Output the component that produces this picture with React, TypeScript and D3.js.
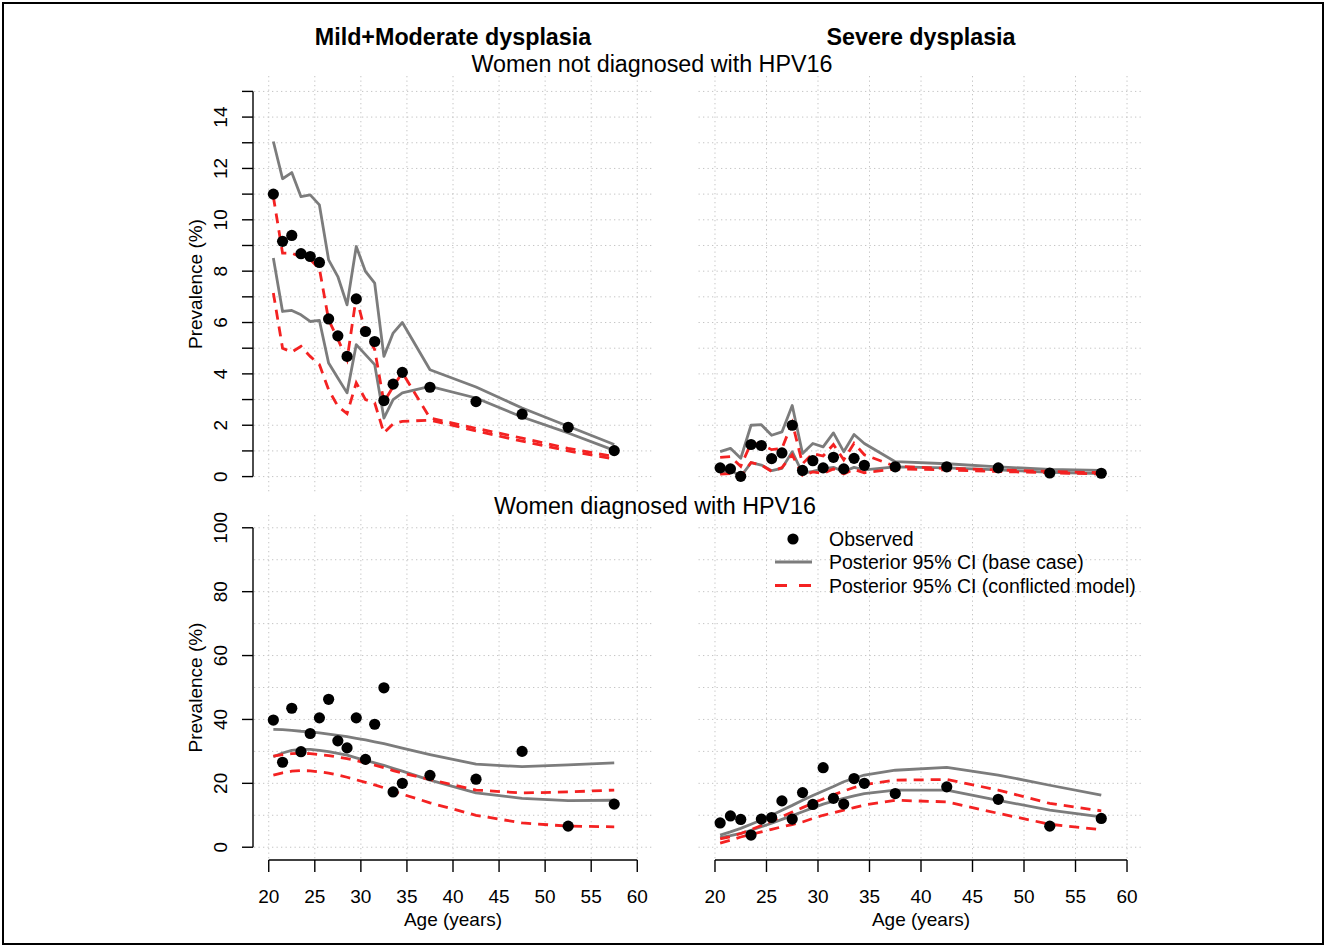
import * as d3 from 'd3';

const ages = [20.5, 21.5, 22.5, 23.5, 24.5, 25.5, 26.5, 27.5, 28.5, 29.5, 30.5, 31.5, 32.5, 33.5, 34.5, 37.5, 42.5, 47.5, 52.5, 57.5];

// Mild+Moderate, women not diagnosed with HPV16
const mildNegObs = [11.0, 9.16, 9.39, 8.68, 8.57, 8.34, 6.14, 5.48, 4.68, 6.92, 5.65, 5.26, 2.96, 3.6, 4.06, 3.48, 2.92, 2.43, 1.92, 1.01];
const mildNegBaseHi = [13.05, 11.6, 11.84, 10.9, 10.97, 10.58, 8.44, 7.79, 6.69, 8.96, 7.99, 7.53, 4.68, 5.59, 6.0, 4.16, 3.49, 2.67, 1.96, 1.25];
const mildNegBaseLo = [8.51, 6.43, 6.47, 6.3, 6.04, 6.08, 4.42, 3.84, 3.26, 5.14, 4.75, 4.36, 2.28, 3.0, 3.26, 3.51, 3.06, 2.32, 1.7, 1.02];
const mildNegConfHi = [10.9, 8.7, 8.7, 8.55, 8.45, 8.1, 6.1, 5.35, 4.55, 7.0, 5.6, 4.95, 2.9, 3.5, 4.05, 2.28, 1.88, 1.5, 1.1, 0.78];
const mildNegConfLo = [7.15, 5.0, 4.85, 5.07, 4.68, 4.36, 3.38, 2.74, 2.45, 3.65, 3.0, 2.87, 1.7, 2.05, 2.15, 2.2, 1.78, 1.38, 1.0, 0.68];

// Severe, women not diagnosed with HPV16
const sevNegObs = [0.34, 0.3, 0.01, 1.25, 1.21, 0.7, 0.92, 2.0, 0.24, 0.62, 0.34, 0.75, 0.3, 0.71, 0.44, 0.38, 0.38, 0.34, 0.14, 0.13];
const sevNegBaseHi = [0.97, 1.1, 0.71, 2.0, 2.02, 1.61, 1.74, 2.77, 0.9, 1.29, 1.16, 1.7, 0.97, 1.64, 1.29, 0.58, 0.5, 0.38, 0.28, 0.24];
const sevNegBaseLo = [0.13, 0.26, 0.0, 0.54, 0.45, 0.23, 0.32, 0.97, 0.13, 0.2, 0.3, 0.36, 0.2, 0.36, 0.26, 0.38, 0.34, 0.26, 0.17, 0.12];
const sevNegConfHi = [0.75, 0.78, 0.4, 1.3, 1.25, 1.05, 1.1, 2.1, 0.5, 0.9, 0.8, 1.25, 0.65, 1.3, 0.85, 0.4, 0.32, 0.26, 0.2, 0.15];
const sevNegConfLo = [0.1, 0.12, 0.0, 0.55, 0.45, 0.2, 0.35, 0.85, 0.05, 0.18, 0.12, 0.3, 0.1, 0.28, 0.15, 0.3, 0.26, 0.2, 0.15, 0.1];

// Mild+Moderate, women diagnosed with HPV16
const mildPosObs = [39.8, 26.6, 43.5, 29.9, 35.6, 40.5, 46.3, 33.3, 31.1, 40.5, 27.5, 38.5, 49.9, 17.3, 20.0, 22.5, 21.3, 30.0, 6.6, 13.5];
const mildPosBaseHi = [36.9, 36.8, 36.6, 36.3, 36.1, 35.8, 35.4, 35.0, 34.6, 34.1, 33.6, 33.0, 32.4, 31.7, 31.0, 29.0, 26.0, 25.2, 25.8, 26.4];
const mildPosBaseLo = [28.3, 29.5, 30.3, 30.6, 30.6, 30.3, 29.9, 29.4, 28.8, 28.0, 27.2, 26.4, 25.6, 24.7, 23.8, 21.0, 17.0, 15.3, 14.6, 14.7];
const mildPosConfHi = [28.5, 29.0, 29.3, 29.4, 29.3, 29.0, 28.7, 28.2, 27.7, 27.1, 26.4, 25.7, 24.9, 24.0, 23.2, 21.2, 17.9, 17.0, 17.3, 17.9];
const mildPosConfLo = [22.6, 23.3, 23.8, 24.0, 23.9, 23.6, 23.2, 22.6, 21.9, 21.1, 20.3, 19.5, 18.6, 17.6, 16.6, 13.9, 10.0, 7.6, 6.6, 6.4];

// Severe, women diagnosed with HPV16
const sevPosObs = [7.6, 9.8, 8.7, 3.8, 8.8, 9.3, 14.5, 8.8, 17.1, 13.4, 24.9, 15.3, 13.5, 21.5, 20.0, 16.8, 18.9, 15.0, 6.6, 9.0];
const sevPosBaseHi = [3.8, 4.8, 5.9, 7.2, 8.5, 10.0, 11.6, 13.1, 14.7, 16.2, 17.6, 19.0, 20.5, 21.6, 22.6, 24.1, 25.0, 22.6, 19.4, 16.3];
const sevPosBaseLo = [3.0, 3.6, 4.3, 5.3, 6.4, 7.5, 8.7, 9.9, 11.1, 12.3, 13.5, 14.4, 15.3, 16.1, 16.8, 17.9, 17.9, 14.7, 11.6, 9.5];
const sevPosConfHi = [2.6, 3.3, 4.3, 5.5, 6.8, 8.2, 9.6, 11.0, 12.4, 13.8, 15.1, 16.4, 17.6, 18.7, 19.6, 21.0, 21.2, 17.9, 13.7, 11.4];
const sevPosConfLo = [1.3, 2.2, 3.2, 4.0, 4.8, 5.6, 6.4, 7.1, 7.9, 9.0, 10.0, 10.8, 11.6, 12.4, 13.2, 14.7, 14.2, 10.6, 7.2, 5.5];

const xTicks = [20, 25, 30, 35, 40, 45, 50, 55, 60];
const topGrid = d3.range(0, 16, 1);
const topTickLabels = [0, 2, 4, 6, 8, 10, 12, 14];
const bottomGrid = d3.range(0, 101, 10);
const bottomTickLabels = [0, 20, 40, 60, 80, 100];
const legendLabels = ['Observed', 'Posterior 95% CI (base case)', 'Posterior 95% CI (conflicted model)'];

const FONT = '"Liberation Sans", Arial, Helvetica, sans-serif';
const GRAY = '#7c7c7c';
const RED = '#f42222';

type Series = { obs: number[]; baseLo: number[]; baseHi: number[]; confLo: number[]; confHi: number[] };

function Panel({ left, right, top, bottom, yDomain, grid, yTicks, yLabels, showY, showX, s }: any) {
  const x = d3.scaleLinear().domain([18.4, 61.6]).range([left, right]);
  const y = d3.scaleLinear().domain(yDomain).range([bottom, top]);
  const line = d3
    .line<number>()
    .x((_, i) => x(ages[i]))
    .y((v) => y(v));
  const series: Series = s;
  return (
    <g>
      {xTicks.map((t) => (
        <line key={'gx' + t} x1={x(t)} x2={x(t)} y1={top} y2={bottom} stroke="#c4c4c4" strokeWidth={1} strokeDasharray="1.3,3.2" />
      ))}
      {grid.map((t: number) => (
        <line key={'gy' + t} x1={left} x2={right} y1={y(t)} y2={y(t)} stroke="#c4c4c4" strokeWidth={1} strokeDasharray="1.3,3.2" />
      ))}
      <path d={line(series.baseHi) || ''} fill="none" stroke={GRAY} strokeWidth={2.8} strokeLinejoin="round" />
      <path d={line(series.baseLo) || ''} fill="none" stroke={GRAY} strokeWidth={2.8} strokeLinejoin="round" />
      <path d={line(series.confHi) || ''} fill="none" stroke={RED} strokeWidth={2.8} strokeDasharray="10,7" />
      <path d={line(series.confLo) || ''} fill="none" stroke={RED} strokeWidth={2.8} strokeDasharray="10,7" />
      {series.obs.map((v, i) => (
        <circle key={'p' + i} cx={x(ages[i])} cy={y(v)} r={5.6} fill="#000" />
      ))}
      {showY ? (
        <g>
          <line x1={left - 1} x2={left - 1} y1={y(yTicks[0])} y2={y(yTicks[yTicks.length - 1])} stroke="#000" strokeWidth={1.4} />
          {yTicks.map((t: number) => (
            <line key={'yt' + t} x1={left - 12} x2={left - 1} y1={y(t)} y2={y(t)} stroke="#000" strokeWidth={1.4} />
          ))}
          {yLabels.map((t: number) => (
            <text
              key={'yl' + t}
              x={227}
              y={y(t)}
              transform={`rotate(-90, 227, ${y(t)})`}
              textAnchor="middle"
              fontSize={19}
              fontFamily={FONT}
            >
              {t}
            </text>
          ))}
          <text
            x={202}
            y={(top + bottom) / 2}
            transform={`rotate(-90, 202, ${(top + bottom) / 2})`}
            textAnchor="middle"
            fontSize={19}
            fontFamily={FONT}
          >
            Prevalence (%)
          </text>
        </g>
      ) : null}
      {showX ? (
        <g>
          <line x1={x(20)} x2={x(60)} y1={bottom} y2={bottom} stroke="#000" strokeWidth={1.4} />
          {xTicks.map((t) => (
            <line key={'xt' + t} x1={x(t)} x2={x(t)} y1={bottom} y2={bottom + 12} stroke="#000" strokeWidth={1.4} />
          ))}
          {xTicks.map((t) => (
            <text key={'xl' + t} x={x(t)} y={903} textAnchor="middle" fontSize={19} fontFamily={FONT}>
              {t}
            </text>
          ))}
          <text x={(x(20) + x(60)) / 2} y={926} textAnchor="middle" fontSize={19} fontFamily={FONT}>
            Age (years)
          </text>
        </g>
      ) : null}
    </g>
  );
}

export default function App() {
  const W = 1327;
  const H = 948;
  const L = { left: 254, right: 652 };
  const R = { left: 698.5, right: 1143.5 };
  const T = { top: 76, bottom: 492, yDomain: [-0.6, 15.6] };
  const B = { top: 515, bottom: 860, yDomain: [-4, 104] };
  const rowY = [539, 562, 585.5];

  return (
    <div style={{ position: 'absolute', left: 0, top: 0 }}>
      <svg width={W} height={H} style={{ display: 'block', background: '#fff' }}>
        <rect x={0} y={0} width={W} height={H} fill="#fff" />
        <rect x={3} y={3} width={1320} height={941} fill="none" stroke="#000" strokeWidth={2} />

        <text x={453} y={45} textAnchor="middle" fontSize={23.3} fontWeight="bold" fontFamily={FONT}>
          Mild+Moderate dysplasia
        </text>
        <text x={921} y={45} textAnchor="middle" fontSize={23.3} fontWeight="bold" fontFamily={FONT}>
          Severe dysplasia
        </text>
        <text x={652} y={72} textAnchor="middle" fontSize={23.3} fontFamily={FONT}>
          Women not diagnosed with HPV16
        </text>
        <text x={655} y={514} textAnchor="middle" fontSize={23.3} fontFamily={FONT}>
          Women diagnosed with HPV16
        </text>

        <Panel {...L} {...T} grid={topGrid} yTicks={topGrid} yLabels={topTickLabels} showY showX={false}
          s={{ obs: mildNegObs, baseLo: mildNegBaseLo, baseHi: mildNegBaseHi, confLo: mildNegConfLo, confHi: mildNegConfHi }} />
        <Panel {...R} {...T} grid={topGrid} yTicks={topGrid} yLabels={topTickLabels} showY={false} showX={false}
          s={{ obs: sevNegObs, baseLo: sevNegBaseLo, baseHi: sevNegBaseHi, confLo: sevNegConfLo, confHi: sevNegConfHi }} />
        <Panel {...L} {...B} grid={bottomGrid} yTicks={bottomTickLabels} yLabels={bottomTickLabels} showY showX
          s={{ obs: mildPosObs, baseLo: mildPosBaseLo, baseHi: mildPosBaseHi, confLo: mildPosConfLo, confHi: mildPosConfHi }} />
        <Panel {...R} {...B} grid={bottomGrid} yTicks={bottomTickLabels} yLabels={bottomTickLabels} showY={false} showX
          s={{ obs: sevPosObs, baseLo: sevPosBaseLo, baseHi: sevPosBaseHi, confLo: sevPosConfLo, confHi: sevPosConfHi }} />

        <g fontFamily={FONT} fontSize={19.5}>
          <circle cx={793} cy={rowY[0]} r={5.6} fill="#000" />
          <line x1={775} x2={812} y1={rowY[1]} y2={rowY[1]} stroke={GRAY} strokeWidth={2.8} />
          <line x1={775} x2={812} y1={rowY[2]} y2={rowY[2]} stroke={RED} strokeWidth={2.8} strokeDasharray="12,12" />
          {legendLabels.map((label, i) => (
            <text key={label} x={829} y={rowY[i] + 7}>
              {label}
            </text>
          ))}
        </g>
      </svg>
    </div>
  );
}
